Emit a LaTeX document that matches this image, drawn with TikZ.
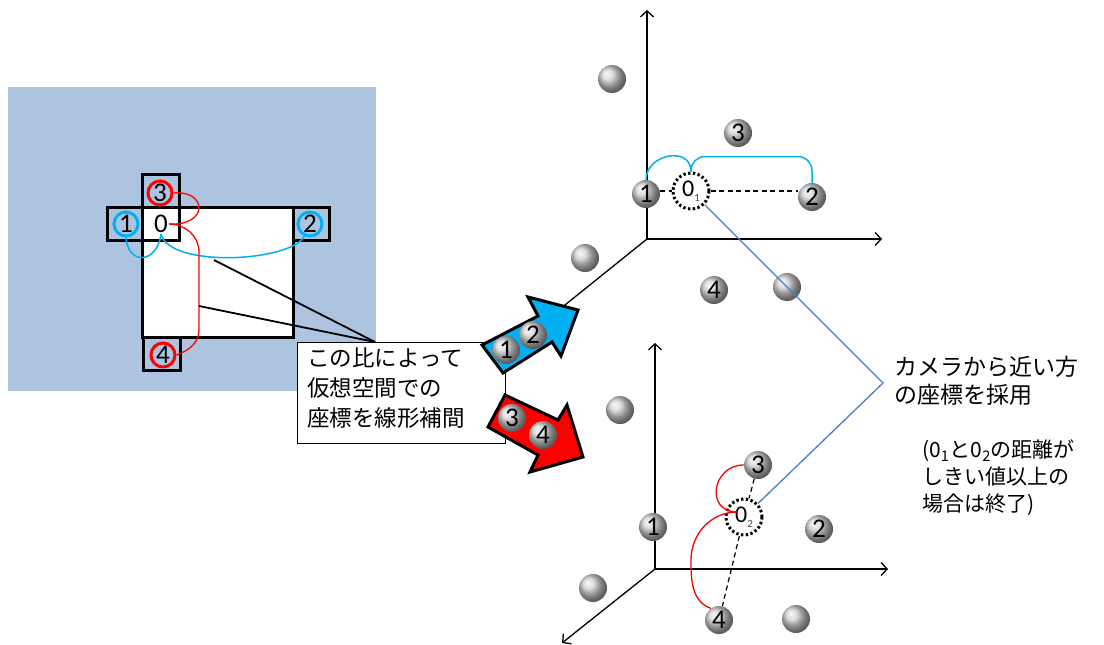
\documentclass[tikz,border=0pt]{standalone}
\usepackage{fontspec}
\setmainfont{Carlito}
\newfontfamily\jpfont{Noto Sans CJK JP}
\usetikzlibrary{arrows.meta,calc}

\definecolor{panelblue}{RGB}{173,196,224}
\definecolor{skyline}{RGB}{0,176,240}
\definecolor{linkblue}{RGB}{74,126,200}
\definecolor{arrowred}{RGB}{255,0,0}

\begin{document}
\begin{tikzpicture}[x=1pt,y=-1pt,
  frame/.style={draw=black,line width=3pt},
  ring/.style={circle,draw,line width=3pt,minimum size=24pt,inner sep=0pt,
    font=\fontsize{27}{27}\selectfont},
  sphere/.style={circle,ball color=gray!35,minimum size=28pt,inner sep=0pt,
    font=\fontsize{27}{27}\selectfont},
  target/.style={circle,draw=black,line width=3pt,dash pattern=on 2.4pt off 2.4pt,
    minimum size=36pt,inner sep=0pt,font=\fontsize{24}{24}\selectfont},
  axis/.style={draw=black,line width=1.3pt,-{Straight Barb[length=6pt,width=13pt,line width=1.3pt]}},
  pointer/.style={draw=black,line width=1.8pt},
  guide/.style={draw=black,line width=1.2pt,dash pattern=on 5pt off 3.5pt},
  cyanlink/.style={draw=skyline,line width=1.5pt},
  redlink/.style={draw=arrowred,line width=1.3pt},
  bluelink/.style={draw=linkblue,line width=1.3pt},
  blockarrow/.style={draw=black,line width=3pt,line join=miter},
  jptext/.style={align=left,inner sep=0pt,anchor=north west,font=\jpfont\fontsize{23}{28}\selectfont},
]
\useasboundingbox (0,0) rectangle (1104,645);

% ---------- screen panel ----------
\fill[panelblue] (8,87) rectangle (376,391);
\path[frame,fill=white] (142,207) rectangle (293,337);
\path[frame] (142,174) rectangle (179,207);
\path[frame] (107,207) rectangle (142,240);
\path[frame] (293,207) rectangle (329,240);
\path[frame] (143,337) rectangle (180,370);
\path[frame,fill=white] (142,207) rectangle (179,240);

\node[ring,draw=skyline] (c1) at (126,224) {1};
\node[ring,draw=skyline] (c2) at (310,224) {2};
\node[ring,draw=arrowred] (c3) at (160,193) {3};
\node[ring,draw=arrowred] (c4) at (163,355) {4};
\node[inner sep=1pt,font=\fontsize{27}{27}\selectfont] (z) at (161,224) {0};

% links from the corner cells to the origin cell
\draw[cyanlink] (c1.south) .. controls +(2,28) and +(-4,30) .. (z.south);
\draw[cyanlink] (z.south) .. controls +(8,34) and +(-14,26) .. (c2.-115);
\coordinate (r1) at (199,252);
\coordinate (r2) at (199,330);
\draw[redlink] (c3.east) .. controls +(34,-3) and +(40,2) .. (z.east);
\draw[redlink] (z.east) to[out=0,in=90] (r1) -- (r2) to[out=-90,in=20] (c4.east);

% ---------- callout ----------
\coordinate (ta) at (214,260);
\coordinate (tb) at (199,306);
\coordinate (tip) at (375,342);
\draw[pointer] (ta) -- (tip);
\draw[pointer] (tb) -- (tip);
\node[draw=black,line width=1.2pt,fill=white,minimum width=208pt,minimum height=101pt,
  anchor=north west,inner sep=0pt] (note) at (297,342) {};
\node[jptext,font=\jpfont\fontsize{22.5}{30}\selectfont] (notetext) at (307,348)
  {この比によって\\仮想空間での\\座標を線形補間};

% ---------- upper space ----------
\coordinate (u0) at (647,239);
\coordinate (uy) at (647,10);
\coordinate (ux) at (882,239);
\coordinate (uz) at (555,313);
\draw[axis] (u0) -- (uy);
\draw[axis] (u0) -- (ux);
\draw[draw=black,line width=1.3pt] (u0) -- (uz);

\node[sphere] (ua) at (612,79) {};
\node[sphere] (ub) at (585,258) {};
\node[sphere] (uc) at (787,287) {};
\node[sphere] (u3) at (738,133) {3};
\node[sphere] (u1) at (646,194) {1};
\node[sphere] (u2) at (812,197) {2};
\node[sphere] (u4) at (714,290) {4};
\node[target] (o1) at (691,191) {0\raisebox{-0.4ex}{\fontsize{11}{11}\selectfont\color{black!70}1}};

\draw[guide] (o1.west -| u1.east) -- (o1.west);
\draw[guide] (o1.east) -- (o1.east -| u2.west);
\draw[cyanlink] (u1.north) .. controls +(0,-26) and +(0,-26) .. (o1.north);
\draw[cyanlink,rounded corners=14pt] (o1.north) -- ++(0,-15) -| (u2.north);

% ---------- lower space ----------
\coordinate (l0) at (655,569);
\coordinate (ly) at (655,343);
\coordinate (lx) at (888,569);
\coordinate (lz) at (562,643);
\draw[axis] (l0) -- (ly);
\draw[axis] (l0) -- (lx);
\draw[axis] (l0) -- (lz);

\node[sphere] (la) at (620,410) {};
\node[sphere] (lb) at (593,588) {};
\node[sphere] (lc) at (796,619) {};
\node[sphere] (l3) at (758,465) {3};
\node[sphere] (l1) at (653,527) {1};
\node[sphere] (l2) at (819,529) {2};
\node[sphere] (l4) at (719,620) {4};
\node[target] (o2) at (744,517) {0\raisebox{-0.4ex}{\fontsize{11}{11}\selectfont\color{black!70}2}};

\draw[guide] (l3) -- (o2);
\draw[guide] (o2) -- (l4);
\coordinate (o2in) at (737,512);
\coordinate (lr) at (691,560);
\draw[redlink] (l3.west) .. controls +(-32,0) and +(-32,0) .. (o2in);
\draw[redlink] (o2in) to[out=180,in=90] (lr) to[out=-90,in=160] (l4.125);

% ---------- choosing the nearer point ----------
\coordinate (v) at (883,383);
\draw[bluelink] (o1) -- (v) -- (o2);

\node[jptext] (pick) at (894,356) {カメラから近い方\\の座標を採用};
\node[jptext,font=\jpfont\fontsize{21}{27}\selectfont] (cond) at (922,440)
  {(0\textsubscript{1}と0\textsubscript{2}の距離が\\しきい値以上の\\場合は終了)};

% ---------- block arrows ----------
\path[blockarrow,fill=skyline] (482,345) -- (538,316) -- (528,297) -- (578,310)
  -- (561,356) -- (552,342) -- (503,373) -- cycle;
\node[sphere] (a1) at (506,350) {1};
\node[sphere] (a2) at (533,335) {2};

\path[blockarrow,fill=arrowred] (505,395) -- (558,420) -- (567,405) -- (583,457)
  -- (530,472) -- (538,455) -- (488,427) -- cycle;
\node[sphere] (a3) at (512,418) {3};
\node[sphere] (a4) at (543,435) {4};
\end{tikzpicture}
\end{document}
